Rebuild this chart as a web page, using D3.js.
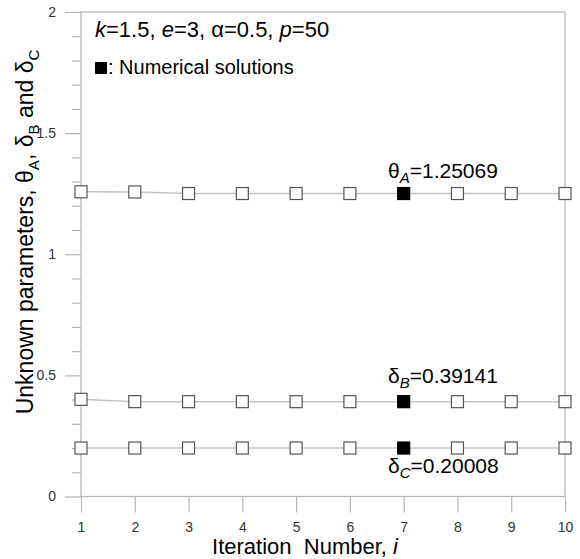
<!DOCTYPE html>
<html>
<head>
<meta charset="utf-8">
<script src="https://cdn.jsdelivr.net/npm/d3@7"></script>
<style>
  body { margin: 0; background: #fff; }
  svg { font-family: Arial, "Liberation Sans", sans-serif; }
</style>
</head>
<body>
<div class="grafico"></div>
<script>
var iteraciones = [1, 2, 3, 4, 5, 6, 7, 8, 9, 10];
var thetaA = [1.2578, 1.2572, 1.2507, 1.25069, 1.25069, 1.25069, 1.25069, 1.25069, 1.25069, 1.25069];
var deltaB = [0.4010, 0.3916, 0.39141, 0.39141, 0.39141, 0.39141, 0.39141, 0.39141, 0.39141, 0.39141];
var deltaC = [0.20008, 0.20008, 0.20008, 0.20008, 0.20008, 0.20008, 0.20008, 0.20008, 0.20008, 0.20008];
var iterNumerica = 7;
var yTicks = [0, 0.5, 1, 1.5, 2];
var yMinor = [0.1, 0.2, 0.3, 0.4, 0.6, 0.7, 0.8, 0.9, 1.1, 1.2, 1.3, 1.4, 1.6, 1.7, 1.8, 1.9];

var svg = d3.select('.grafico')
  .append('svg')
  .attr('width', 580)
  .attr('height', 559);

var xScale = d3.scaleLinear().domain([1, 10]).range([81, 565]);
var yScale = d3.scaleLinear().domain([0, 2]).range([496.5, 12]);

var gris = '#b4b4b4';

// ejes
var yAxis = d3.axisLeft(yScale).tickValues(yTicks).tickSize(16).tickPadding(9)
  .tickFormat(d3.format('~g'));
var yAxisMinor = d3.axisLeft(yScale).tickValues(yMinor).tickSize(9).tickFormat('');
var xAxis = d3.axisBottom(xScale).tickValues(iteraciones).tickSize(16).tickPadding(10)
  .tickFormat(d3.format('d'));

var gy = svg.append('g').attr('transform', 'translate(81,0)').call(yAxis);
var gym = svg.append('g').attr('transform', 'translate(81,0)').call(yAxisMinor);
var gx = svg.append('g').attr('transform', 'translate(0,496.5)').call(xAxis);

[gy, gym, gx].forEach(function (g) {
  g.select('.domain').remove();
  g.selectAll('line').attr('stroke', gris).attr('stroke-width', 1.2);
  g.selectAll('text').attr('fill', '#333').style('font-size', '14px');
});

svg.append('rect')
  .attr('x', xScale(1))
  .attr('y', yScale(2))
  .attr('width', xScale(10) - xScale(1))
  .attr('height', yScale(0) - yScale(2))
  .attr('fill', 'none')
  .attr('stroke', gris)
  .attr('stroke-width', 1.2);

// series
var series = [thetaA, deltaB, deltaC];
var linea = d3.line()
  .x(function (d, i) { return xScale(iteraciones[i]); })
  .y(function (d) { return yScale(d); });

series.forEach(function (s) {
  svg.append('path')
    .datum(s)
    .attr('d', linea)
    .attr('fill', 'none')
    .attr('stroke', '#c4c4c4')
    .attr('stroke-width', 1.5);

  svg.append('g')
    .selectAll('rect')
    .data(s)
    .enter()
    .append('rect')
    .attr('x', function (d, i) { return xScale(iteraciones[i]) - 6; })
    .attr('y', function (d) { return yScale(d) - 6; })
    .attr('width', 12)
    .attr('height', 12)
    .attr('fill', function (d, i) { return iteraciones[i] === iterNumerica ? '#000' : '#fff'; })
    .attr('stroke', function (d, i) { return iteraciones[i] === iterNumerica ? '#000' : '#555'; })
    .attr('stroke-width', 1.2);
});

// etiquetas
function etiqueta(x, y, letra, sub, valor) {
  var t = svg.append('text')
    .attr('x', x)
    .attr('y', y)
    .style('font-size', '21px')
    .attr('fill', '#000');
  t.append('tspan').text(letra);
  t.append('tspan').attr('dy', 5).style('font-size', '15px').style('font-style', 'italic').text(sub);
  t.append('tspan').attr('dy', -5).text('=' + valor);
}
var idx = iteraciones.indexOf(iterNumerica);
etiqueta(388, yScale(thetaA[idx]) - 16, 'θ', 'A', '1.25069');
etiqueta(388, yScale(deltaB[idx]) - 19, 'δ', 'B', '0.39141');
etiqueta(388, yScale(deltaC[idx]) + 25, 'δ', 'C', '0.20008');

var t1 = svg.append('text').attr('x', 95).attr('y', 37).style('font-size', '22px');
t1.append('tspan').style('font-style', 'italic').text('k');
t1.append('tspan').text('=1.5, ');
t1.append('tspan').style('font-style', 'italic').text('e');
t1.append('tspan').text('=3, α=0.5, ');
t1.append('tspan').style('font-style', 'italic').text('p');
t1.append('tspan').text('=50');

svg.append('rect').attr('x', 95).attr('y', 62).attr('width', 12).attr('height', 12).attr('fill', '#000');
svg.append('text').attr('x', 108).attr('y', 74).style('font-size', '20px').text(': Numerical solutions');

// titulos
var tx = svg.append('text')
  .attr('x', 305)
  .attr('y', 554)
  .attr('text-anchor', 'middle')
  .attr('xml:space', 'preserve')
  .style('font-size', '22px');
tx.append('tspan').text('Iteration  Number, ');
tx.append('tspan').style('font-style', 'italic').text('i');

var ty = svg.append('text')
  .attr('transform', 'translate(33,232) rotate(-90)')
  .attr('text-anchor', 'middle')
  .style('font-size', '23px');
ty.append('tspan').text('Unknown parameters, θ');
ty.append('tspan').attr('dy', 6).style('font-size', '15px').text('A');
ty.append('tspan').attr('dy', -6).text(', δ');
ty.append('tspan').attr('dy', 6).style('font-size', '15px').text('B');
ty.append('tspan').attr('dy', -6).text(' and δ');
ty.append('tspan').attr('dy', 6).style('font-size', '15px').text('C');
</script>
</body>
</html>
